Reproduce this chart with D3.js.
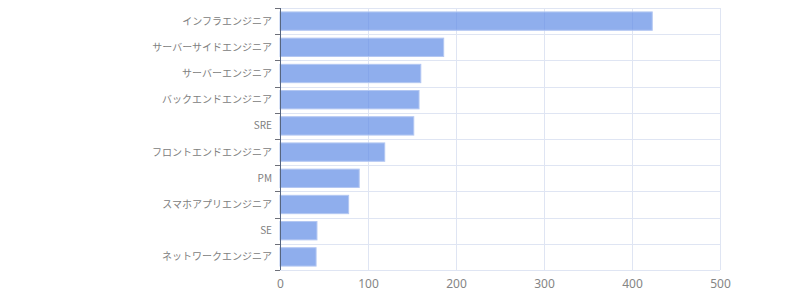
<!DOCTYPE html>
<html>
<head>
<meta charset="utf-8">
<script src="https://cdn.jsdelivr.net/npm/d3@7"></script>
<style>
  body { margin: 0; background: #fff; }
  text { font-family: "Noto Sans CJK JP", "Noto Sans", sans-serif; }
</style>
</head>
<body>
<div id="chart"></div>
<script>
// job categories, top to bottom
const jobs = ['インフラエンジニア', 'サーバーサイドエンジニア', 'サーバーエンジニア',
  'バックエンドエンジニア', 'SRE', 'フロントエンドエンジニア', 'PM',
  'スマホアプリエンジニア', 'SE', 'ネットワークエンジニア'];
const counts = [423, 186, 160, 158, 152, 119, 90, 78, 42, 41];
const xTicks = [0, 100, 200, 300, 400, 500];

const data = jobs.map((j, i) => ({ job: j, count: counts[i] }));

const width = 800, height = 300;
const margin = { top: 8, right: 80, bottom: 30, left: 280 };
const innerW = width - margin.left - margin.right;
const innerH = height - margin.top - margin.bottom;

const svg = d3.select('#chart').append('svg')
    .attr('width', width)
    .attr('height', height);

const g = svg.append('g')
    .attr('transform', `translate(${margin.left},${margin.top})`);

const xScale = d3.scaleLinear()
    .domain([0, 500])
    .range([0, innerW]);

const yScale = d3.scaleBand()
    .domain(jobs)
    .range([0, innerH])
    .paddingInner(0.3)
    .paddingOuter(0.15);

// band boundaries for grid + ticks
const bounds = d3.range(jobs.length + 1).map(d => Math.round(d * innerH / jobs.length) + 0.5);

// horizontal grid lines
g.append('g').selectAll('line')
    .data(bounds)
    .join('line')
    .attr('x1', 0)
    .attr('x2', innerW)
    .attr('y1', d => d)
    .attr('y2', d => d)
    .attr('stroke', '#dfe5f3');

// vertical grid lines
g.append('g').selectAll('line')
    .data(xTicks)
    .join('line')
    .attr('x1', d => Math.round(xScale(d)) + 0.5)
    .attr('x2', d => Math.round(xScale(d)) + 0.5)
    .attr('y1', 0)
    .attr('y2', innerH)
    .attr('stroke', '#dfe5f3');

// bars
g.append('g').selectAll('rect')
    .data(data)
    .join('rect')
    .attr('x', xScale(0))
    .attr('y', d => yScale(d.job))
    .attr('width', d => xScale(d.count) - xScale(0))
    .attr('height', yScale.bandwidth())
    .attr('fill', '#5f8ce6')
    .attr('fill-opacity', 0.7)
    .attr('stroke', '#b3c7f2')
    .attr('stroke-width', 1);

// x axis labels
const xAxis = d3.axisBottom(xScale)
    .tickValues(xTicks)
    .tickSize(0)
    .tickPadding(9);

const xAxisG = g.append('g')
    .attr('transform', `translate(0,${innerH})`)
    .call(xAxis);
xAxisG.select('.domain').remove();
xAxisG.selectAll('text')
    .attr('fill', '#858585')
    .style('font-family', '"Noto Sans", sans-serif')
    .style('font-size', '12px');

// y axis: line, ticks between categories, labels
g.append('line')
    .attr('x1', 0.5).attr('x2', 0.5)
    .attr('y1', 0).attr('y2', innerH)
    .attr('stroke', '#56657f');

g.append('g').selectAll('line')
    .data(bounds)
    .join('line')
    .attr('x1', -5)
    .attr('x2', 0)
    .attr('y1', d => d)
    .attr('y2', d => d)
    .attr('stroke', '#6e7079');

g.append('g').selectAll('text')
    .data(jobs)
    .join('text')
    .attr('x', -8)
    .attr('y', d => yScale(d) + yScale.bandwidth() / 2)
    .attr('dy', '0.35em')
    .attr('text-anchor', 'end')
    .attr('fill', '#808080')
    .style('font-size', '10px')
    .text(d => d);
</script>
</body>
</html>
